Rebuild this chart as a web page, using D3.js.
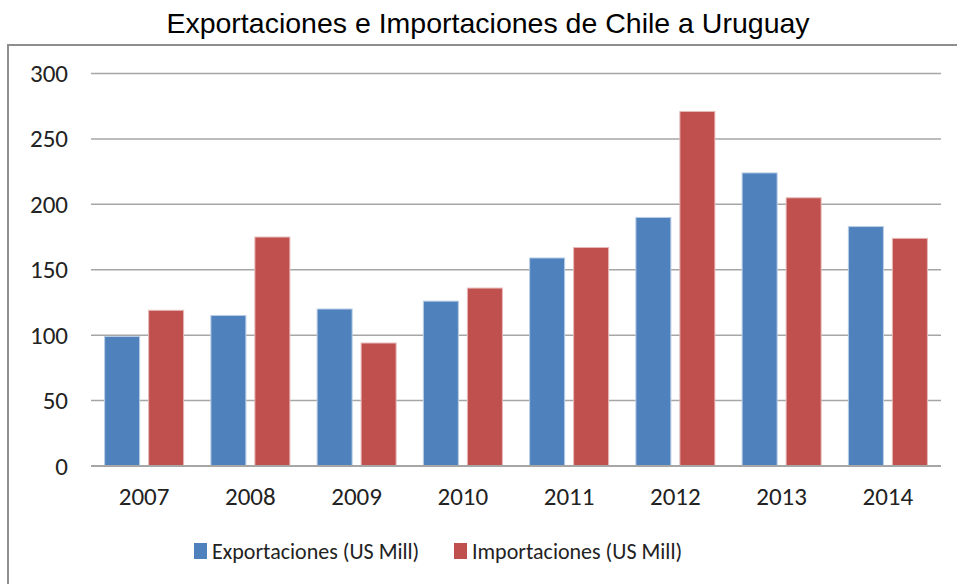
<!DOCTYPE html>
<html>
<head>
<meta charset="utf-8">
<script src="https://cdn.jsdelivr.net/npm/d3@7"></script>
<style>
  body { margin: 0; background: #fff; }
  svg { display: block; }
</style>
</head>
<body>
<div id="chart"></div>
<script>
// data
var years = ["2007", "2008", "2009", "2010", "2011", "2012", "2013", "2014"];
var exportaciones = [99, 115, 120, 126, 159, 190, 224, 183];
var importaciones = [119, 175, 94, 136, 167, 271, 205, 174];
var seriesNames = ["Exportaciones (US Mill)", "Importaciones (US Mill)"];
var seriesColors = ["#4f81bd", "#c0504d"];
var yTicks = [0, 50, 100, 150, 200, 250, 300];

var width = 957, height = 584;
var labelFont = "Carlito, Calibri, 'Open Sans', sans-serif";

var rows = years.map(function(y, i) {
  return { year: y, values: [exportaciones[i], importaciones[i]] };
});

var svg = d3.select("#chart").append("svg")
  .attr("width", width)
  .attr("height", height);

// outer frame (right/bottom edges fall outside the picture)
svg.append("rect")
  .attr("x", 8).attr("y", 45)
  .attr("width", 960).attr("height", 560)
  .attr("fill", "none")
  .attr("stroke", "#8e8e8e")
  .attr("stroke-width", 2);

// title
svg.append("text")
  .attr("x", 488).attr("y", 33)
  .attr("text-anchor", "middle")
  .style("font-family", "'Liberation Sans Narrow', 'Arial Narrow', 'Liberation Sans', sans-serif")
  .style("font-size", "28.5px")
  .style("fill", "#000")
  .text("Exportaciones e Importaciones de Chile a Uruguay");

// scales
var x0 = d3.scaleBand().domain(years).range([91, 941]);
var groupW = 79;
var x1 = d3.scaleBand().domain([0, 1]).range([0, groupW]).paddingInner(9 / 44);
var y = d3.scaleLinear().domain([0, 300]).range([466, 73.5]);

// gridlines
svg.append("g")
  .selectAll("line")
  .data(yTicks.filter(function(d) { return d > 0; }))
  .enter().append("line")
  .attr("x1", 91).attr("x2", 941)
  .attr("y1", function(d) { return y(d); })
  .attr("y2", function(d) { return y(d); })
  .attr("stroke", "#a6a6a6")
  .attr("stroke-width", 1.5);

// y axis labels
var yAxis = d3.axisLeft(y).tickValues(yTicks).tickSize(0).tickPadding(0);
var gy = svg.append("g")
  .attr("transform", "translate(68,0)")
  .call(yAxis);
gy.select(".domain").remove();
gy.selectAll("text")
  .style("font-family", labelFont)
  .style("font-size", "25px")
  .style("fill", "#222");

// bars
var groups = svg.append("g")
  .selectAll("g")
  .data(rows)
  .enter().append("g")
  .attr("transform", function(d) {
    return "translate(" + (x0(d.year) + (x0.bandwidth() - groupW) / 2) + ",0)";
  });

groups.selectAll("rect")
  .data(function(d) { return d.values; })
  .enter().append("rect")
  .attr("x", function(d, i) { return x1(i); })
  .attr("y", function(d) { return y(d); })
  .attr("width", x1.bandwidth())
  .attr("height", function(d) { return y(0) - y(d); })
  .attr("fill", function(d, i) { return seriesColors[i]; })
  .attr("stroke", function(d, i) { return i === 0 ? "#b9cde5" : "#e6b9b8"; })
  .attr("stroke-width", 1);

// x axis
var xAxis = d3.axisBottom(x0).tickSize(0).tickPadding(0);
var gx = svg.append("g")
  .attr("transform", "translate(0," + y(0) + ")")
  .call(xAxis);
gx.select(".domain")
  .attr("d", "M91,0H941")
  .attr("stroke", "#a6a6a6")
  .attr("stroke-width", 2);
gx.selectAll("text")
  .attr("dy", null)
  .attr("y", 39)
  .style("font-family", labelFont)
  .style("font-size", "25px")
  .style("fill", "#222");

// legend
var legendX = [194, 454];
var legend = svg.append("g")
  .selectAll("g")
  .data(seriesNames)
  .enter().append("g")
  .attr("transform", function(d, i) { return "translate(" + legendX[i] + ",543)"; });
legend.append("rect")
  .attr("width", 13).attr("height", 16)
  .attr("fill", function(d, i) { return seriesColors[i]; });
legend.append("text")
  .attr("x", 18).attr("y", 15.5)
  .style("font-family", labelFont)
  .style("font-size", "22px")
  .style("fill", "#222")
  .text(function(d) { return d; });
</script>
</body>
</html>
